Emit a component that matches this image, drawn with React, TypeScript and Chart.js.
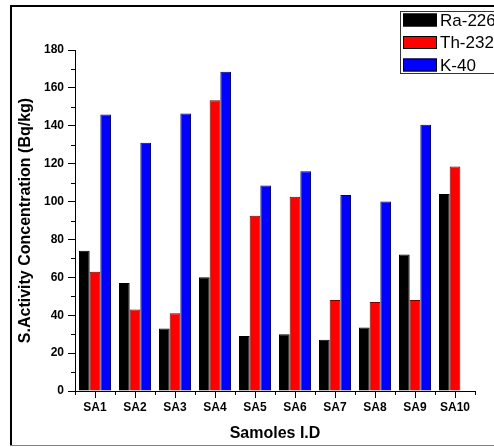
import React, { useEffect, useRef } from "react";
import { Chart, registerables } from "chart.js";

Chart.register(...registerables);

const categories = ["SA1", "SA2", "SA3", "SA4", "SA5", "SA6", "SA7", "SA8", "SA9", "SA10"];
const ra226 = [74, 57, 33, 60, 29, 30, 27, 33.5, 72, 104];
const th232 = [63, 43, 41, 153.5, 92.5, 102.5, 48, 47, 48, 118.5];
const k40: (number | null)[] = [146, 131, 146.5, 168.5, 108.5, 116, 103.5, 100, 140.5, null];
const seriesNames = ["Ra-226", "Th-232", "K-40"];
const yTicks = [0, 20, 40, 60, 80, 100, 120, 140, 160, 180];
const yMinorTicks = [10, 30, 50, 70, 90, 110, 130, 150, 170];
const xTitle = "Samoles I.D";
const yTitle = "S.Activity Concentration (Bq/kg)";

const FONT = "'Liberation Sans', Arial, sans-serif";
const fills = ["#000000", "#ff0000", "#0000ff"];
const borders = ["#000000", "#7a0000", "#000070"];

const decorPlugin = {
  id: "decor",
  afterDraw(chart: any) {
    const ctx = chart.ctx;
    const x = chart.scales.x;
    const y = chart.scales.y;
    ctx.save();
    // minor ticks
    ctx.strokeStyle = "#000";
    ctx.lineWidth = 1;
    ctx.beginPath();
    yMinorTicks.forEach((v) => {
      const py = Math.round(y.getPixelForValue(v)) + 0.5;
      ctx.moveTo(x.left - 4, py);
      ctx.lineTo(x.left, py);
    });
    for (let i = 0; i <= categories.length; i++) {
      const px = Math.round(x.getPixelForValue(i) - (x.getPixelForValue(1) - x.getPixelForValue(0)) / 2) + 0.5;
      ctx.moveTo(px, y.bottom);
      ctx.lineTo(px, y.bottom + 4);
    }
    ctx.stroke();

    // page frame
    ctx.fillStyle = "#000";
    ctx.fillRect(10, 5, 484, 2);
    ctx.fillRect(10, 5, 2, 441);
    ctx.fillStyle = "#808080";
    ctx.fillRect(10, 445, 484, 1);

    // legend
    ctx.fillStyle = "#fff";
    ctx.fillRect(400.5, 11.5, 100, 62);
    ctx.strokeStyle = "#333";
    ctx.strokeRect(400.5, 11.5, 100, 62);
    const centers = [20, 42.5, 65];
    ctx.font = `17px ${FONT}`;
    ctx.textBaseline = "middle";
    ctx.textAlign = "left";
    seriesNames.forEach((name, i) => {
      const cy = centers[i];
      ctx.fillStyle = fills[i];
      ctx.fillRect(403, cy - 6.5, 34, 13);
      ctx.strokeStyle = "#000";
      ctx.strokeRect(403.5, cy - 6, 33, 12);
      ctx.fillStyle = "#000";
      ctx.fillText(name, 440, cy + 1);
    });
    ctx.restore();
  },
};

export default function App() {
  const ref = useRef<HTMLCanvasElement>(null);
  useEffect(() => {
    if (!ref.current) return;
    const data = [ra226, th232, k40];
    const chart = new Chart(ref.current, {
      type: "bar",
      data: {
        labels: categories,
        datasets: seriesNames.map((name, i) => ({
          label: name,
          data: data[i] as any,
          backgroundColor: fills[i],
          borderColor: borders[i],
          borderWidth: 1,
          categoryPercentage: 0.8,
          barPercentage: 1.0,
        })),
      },
      options: {
        responsive: false,
        animation: false,
        layout: { padding: { left: 0, top: 50, right: 19, bottom: 0 } },
        plugins: { legend: { display: false }, tooltip: { enabled: false } },
        scales: {
          x: {
            grid: { display: true, drawOnChartArea: false, drawTicks: true, tickLength: 7, color: "#000", offset: false },
            border: { display: true, color: "#000", width: 1 },
            ticks: { color: "#000", font: { family: FONT, size: 12, weight: "bold" }, padding: 2, maxRotation: 0, autoSkip: false },
            title: { display: true, text: xTitle, color: "#000", font: { family: FONT, size: 16, weight: "bold" }, padding: { top: 0, bottom: 4 } },
            afterFit: (s: any) => { s.height = 56; },
          },
          y: {
            min: 0,
            max: 180,
            afterBuildTicks: (s: any) => { s.ticks = yTicks.map((v) => ({ value: v })); },
            grid: { display: true, drawOnChartArea: false, drawTicks: true, tickLength: 7, color: "#000" },
            border: { display: true, color: "#000", width: 1 },
            ticks: { color: "#000", font: { family: FONT, size: 12, weight: "bold" }, padding: 4 },
            title: { display: true, text: yTitle, color: "#000", font: { family: FONT, size: 16, weight: "bold" }, padding: { top: 16, bottom: 0 } },
            afterFit: (s: any) => { s.width = 75; },
          },
        },
      } as any,
      plugins: [decorPlugin],
    });
    return () => chart.destroy();
  }, []);
  return (
    <div style={{ position: "absolute", left: 0, top: 0, width: 494, height: 447, background: "#fff" }}>
      <canvas ref={ref} width={494} height={447} style={{ width: 494, height: 447, display: "block" }} />
    </div>
  );
}
